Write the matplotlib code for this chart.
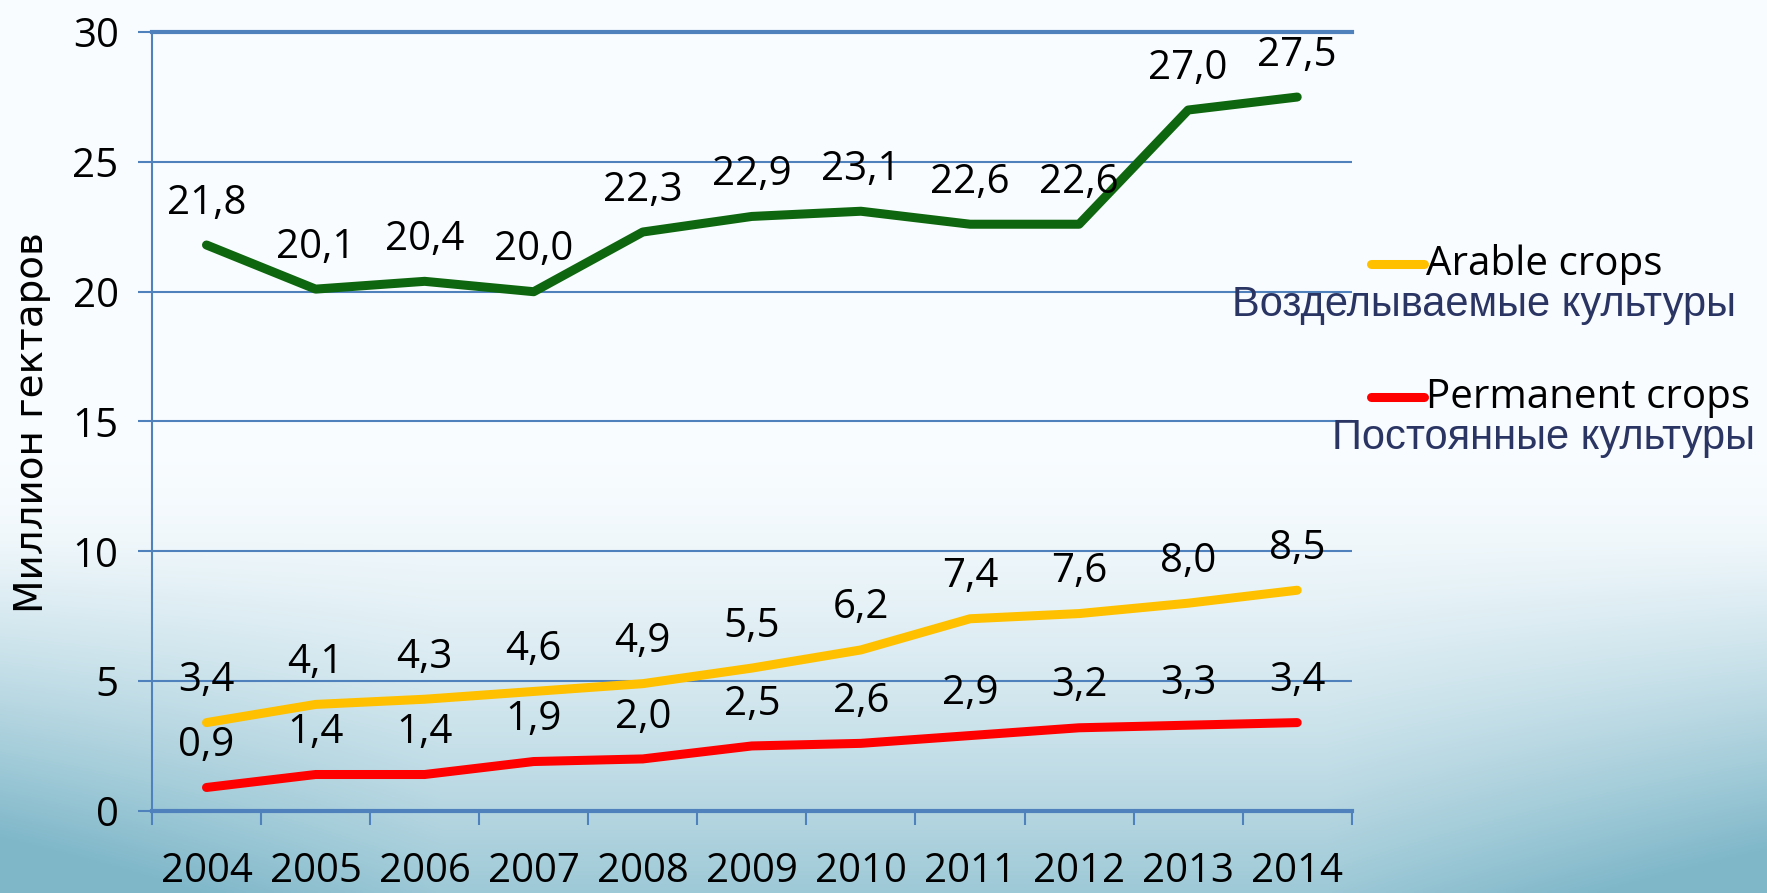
import numpy as np
import matplotlib
matplotlib.use("Agg")
import matplotlib.pyplot as plt

years = ['2004', '2005', '2006', '2007', '2008', '2009', '2010', '2011', '2012', '2013', '2014']
total = [21.8, 20.1, 20.4, 20.0, 22.3, 22.9, 23.1, 22.6, 22.6, 27.0, 27.5]
arable = [3.4, 4.1, 4.3, 4.6, 4.9, 5.5, 6.2, 7.4, 7.6, 8.0, 8.5]
permanent = [0.9, 1.4, 1.4, 1.9, 2.0, 2.5, 2.6, 2.9, 3.2, 3.3, 3.4]

blue = '#4F81BD'
green = '#0E670E'
yellow = '#FFC000'
red = '#FF0000'
navy = '#2B3563'
lab_font = ['Open Sans', 'DejaVu Sans']

fig = plt.figure(figsize=(17.67, 8.93), dpi=100)

# background: near white at top, light blue-teal towards the bottom, darker corners
bg = fig.add_axes([0, 0, 1, 1], zorder=-10)
yy, xx = np.mgrid[0:1:300j, 0:1:600j]
t = 0.75 * np.clip((yy - 0.5) / 0.5, 0, 1) ** 1.5
t = t + 0.45 * np.clip(1 - xx * 4, 0, 1) * np.clip((yy - 0.6) / 0.4, 0, 1)
t = t + 0.4 * np.clip(xx * 4 - 3, 0, 1) * np.clip((yy - 0.6) / 0.4, 0, 1)
t = np.clip(t, 0, 1)
top = np.array([0.975, 0.99, 1.0])
bot = np.array([0.50, 0.72, 0.79])
img = top[None, None, :] * (1 - t[..., None]) + bot[None, None, :] * t[..., None]
bg.imshow(img, aspect='auto', extent=[0, 1, 0, 1], origin='upper')
bg.set_axis_off()

ax = fig.add_axes([0.086, 0.092, 0.679, 0.872])
ax.set_facecolor('none')
x = np.arange(len(years))

ax.plot(x, total, color=green, lw=6.5, solid_capstyle='round', zorder=3)
ax.plot(x, arable, color=yellow, lw=6.5, solid_capstyle='round', zorder=3)
ax.plot(x, permanent, color=red, lw=6.5, solid_capstyle='round', zorder=3)

for series in (total, arable, permanent):
    for xi, v in zip(x, series):
        ax.annotate(f'{v:.1f}'.replace('.', ','), (xi, v), xytext=(0, 30),
                    textcoords='offset points', ha='center', va='center',
                    fontsize=29, family=lab_font, zorder=4)

ax.set_xlim(-0.5, len(years) - 0.5)
ax.set_ylim(0, 30)
ax.set_yticks(range(0, 31, 5))
ax.grid(axis='y', color=blue, lw=1.5)
ax.set_axisbelow(True)
ax.set_xticks(x)
ax.set_xticklabels(years, fontsize=29, family=lab_font)
ax.tick_params(axis='x', which='major', length=0, pad=29)
ax.set_xticks(np.arange(-0.5, len(years)), minor=True)
ax.tick_params(axis='x', which='minor', length=10, width=1.5, color=blue, direction='out')
ax.tick_params(axis='y', length=10, width=1.5, color=blue, pad=14, labelsize=29)
for lab in ax.get_yticklabels():
    lab.set_family(lab_font)

for s in ['top', 'right']:
    ax.spines[s].set_visible(False)
ax.spines['left'].set_color(blue)
ax.spines['left'].set_linewidth(1.5)
ax.spines['bottom'].set_color(blue)
ax.spines['bottom'].set_linewidth(3)
ax.axhline(30, color=blue, lw=3, clip_on=False, zorder=1)

fig.text(0.018, 0.527, 'Миллион гектаров', rotation=90, ha='center', va='center',
         fontsize=28, family=['Liberation Sans Narrow', 'DejaVu Sans'])

# legend
for (yl, col, name, ru, xru) in [(0.704, yellow, 'Arable crops', 'Возделываемые культуры', 0.697),
                                  (0.555, red, 'Permanent crops', 'Постоянные культуры', 0.754)]:
    fig.add_artist(plt.Line2D([0.776, 0.806], [yl, yl], color=col, lw=6.5,
                              solid_capstyle='round', transform=fig.transFigure))
    fig.text(0.807, yl, name, ha='left', va='center', fontsize=29, family=lab_font)
    fig.text(xru, yl - 0.045, ru, ha='left', va='center', fontsize=30,
             color=navy, family=['Liberation Sans', 'DejaVu Sans'])

fig.savefig('out.png', dpi=100)
